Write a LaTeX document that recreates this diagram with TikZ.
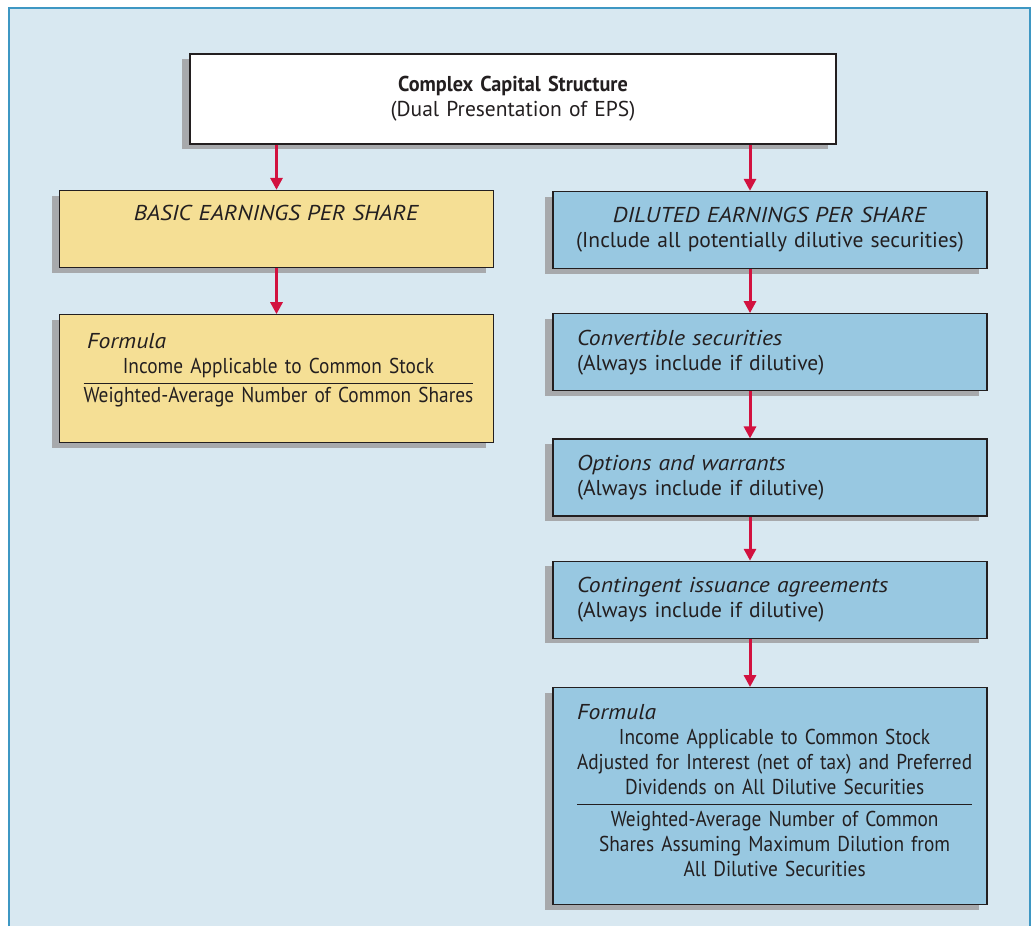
\documentclass[tikz,border=0pt]{standalone}
\usepackage{fontspec}
\setmainfont{PT Sans}[
    ItalicFeatures={FakeStretch=1.1},
    BoldFeatures={FakeStretch=0.94}]
\newfontfamily\formulafont{PT Sans}[FakeStretch=0.9]
\usepackage{xcolor}
\usetikzlibrary{positioning,arrows.meta,shadows}

\definecolor{panelbg}{HTML}{D8E8F1}
\definecolor{panelline}{HTML}{3E97C3}
\definecolor{basicfill}{HTML}{F5DF95}
\definecolor{dilutedfill}{HTML}{98C8E1}
\definecolor{shadowgray}{HTML}{A7A9AC}
\definecolor{arrowred}{HTML}{D2113F}
\definecolor{textgray}{HTML}{231F20}

\begin{document}
\begin{tikzpicture}[
    x=1pt, y=1pt,
    font=\fontsize{21.5}{25}\selectfont,
    box/.style={
        rectangle,
        draw=textgray,
        text=textgray,
        line width=1.3pt,
        inner xsep=24pt,
        inner ysep=0pt,
        text width=386pt,
        minimum height=77pt,
        general shadow={fill=shadowgray, shadow xshift=-8pt, shadow yshift=-5pt}
    },
    arrow/.style={
        -{Triangle[length=12pt,width=12pt]},
        line width=3pt,
        draw=arrowred
    }
]

% Panel
\useasboundingbox (0,0) rectangle (1035,-926);
\fill[panelbg] (9,-8) rectangle (1030,-926);
\draw[panelline, line width=2.5pt] (9,-926) -- (9,-8) -- (1030,-8) -- (1030,-926);

% Top
\node[box, fill=white, align=center, text width=598pt, minimum height=90pt] (capital)
at (513,-99)
{\textbf{Complex Capital Structure}\\
(Dual Presentation of EPS)};

% Basic EPS
\node[box, fill=basicfill, align=center] (basic) at (276.5,-229)
{\textit{BASIC EARNINGS PER SHARE}\\
\strut};

\node[box, fill=basicfill, align=center, minimum height=128pt, below=46pt of basic] (basicformula)
{\makebox[386pt][l]{\,\textit{Formula}}\\
{\formulafont
\begin{tabular}[t]{@{}c@{}}
Income Applicable to Common Stock\\[2pt] \hline
\noalign{\vskip 2pt}
Weighted-Average Number of Common Shares
\end{tabular}}
\par\vspace{14pt}};

% Diluted EPS
\node[box, fill=dilutedfill, align=center, text width=404pt, inner xsep=15pt] (diluted) at (770,-230)
{\textit{DILUTED EARNINGS PER SHARE}\\
(Include all potentially dilutive securities)};

\node[box, fill=dilutedfill, align=left, below=44pt of diluted] (convertible)
{\textit{Convertible securities}\\
(Always include if dilutive)};

\node[box, fill=dilutedfill, align=left, below=47pt of convertible] (options)
{\textit{Options and warrants}\\
(Always include if dilutive)};

\node[box, fill=dilutedfill, align=left, below=44pt of options] (contingent)
{\textit{Contingent issuance agreements}\\
(Always include if dilutive)};

\node[box, fill=dilutedfill, align=center, minimum height=217pt, below=48pt of contingent] (dilutedformula)
{\makebox[386pt][l]{\textit{Formula}}\\
{\formulafont
\begin{tabular}[t]{@{}c@{}}
Income Applicable to Common Stock\\
Adjusted for Interest (net of tax) and Preferred\\
Dividends on All Dilutive Securities\\[2pt] \hline
\noalign{\vskip 4pt}
Weighted-Average Number of Common\\
Shares Assuming Maximum Dilution from\\
All Dilutive Securities
\end{tabular}}
\par\vspace{4pt}};

% Connections
\coordinate (dline) at ([xshift=-20pt]diluted.north);

\draw[arrow] (capital.south -| basic.north) -- (basic.north);

\draw[arrow] (basic.south) -- (basicformula.north);

\draw[arrow] (capital.south -| dline) -- (dline);

\draw[arrow] (dline |- diluted.south) -- (dline |- convertible.north);

\draw[arrow] (dline |- convertible.south) -- (dline |- options.north);

\draw[arrow] (dline |- options.south) -- (dline |- contingent.north);

\draw[arrow] (dline |- contingent.south) -- (dline |- dilutedformula.north);

\end{tikzpicture}
\end{document}
